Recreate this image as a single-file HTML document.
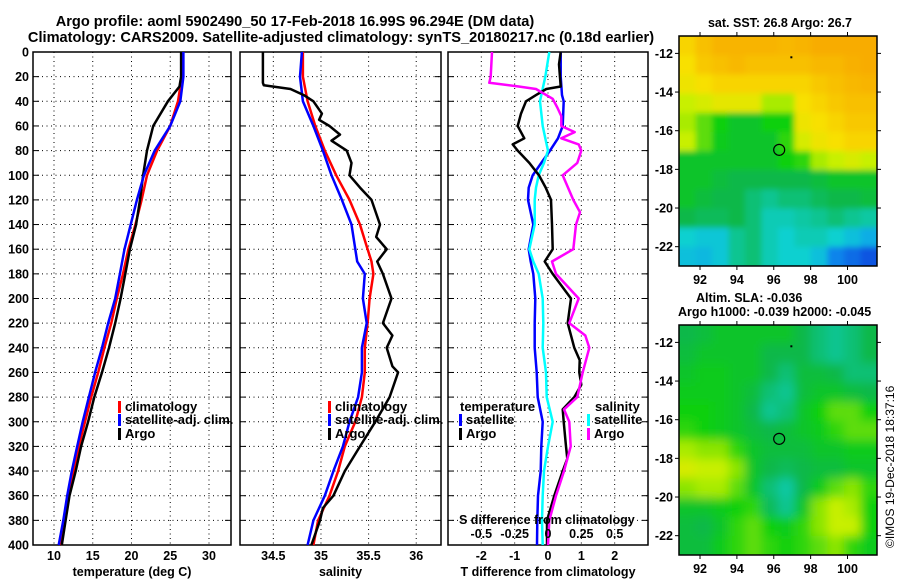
<!DOCTYPE html>
<html><head><meta charset="utf-8"><style>
body{margin:0;background:#fff;}
svg{display:block;font-family:"Liberation Sans",Arial,sans-serif;font-weight:bold;}
</style></head><body>
<svg id="chart" width="900" height="580" viewBox="0 0 900 580" xmlns="http://www.w3.org/2000/svg">
<text x="295" y="26" font-size="14.6" text-anchor="middle">Argo profile: aoml 5902490_50 17-Feb-2018 16.99S 96.294E (DM data)</text>
<text x="341" y="42" font-size="14.6" text-anchor="middle">Climatology: CARS2009. Satellite-adjusted climatology: synTS_20180217.nc (0.18d earlier)</text>
<g id="g"></g>
<text x="780" y="27" font-size="12.5" text-anchor="middle">sat. SST: 26.8 Argo: 26.7</text>
<text x="696" y="302" font-size="12.5">Altim. SLA: -0.036</text>
<text x="678" y="316" font-size="12.5">Argo h1000: -0.039 h2000: -0.045</text>
<text transform="translate(894,548) rotate(-90)" font-size="12" font-weight="normal">©IMOS 19-Dec-2018 18:37:16</text>
</svg>
<script>
// ---- profile data ----
const depthT = [0,20,40,60,80,100,120,140,160,180,200,220,240,260,280,300,320,340,360,380,400];
const tempClim = [26.5,26.5,26.0,25.0,23.3,22.0,21.3,20.5,19.6,18.9,18.1,17.4,16.5,15.7,14.8,14.0,13.2,12.5,11.8,11.4,10.9];
const tempSat  = [26.7,26.7,26.3,25.0,23.0,21.6,20.7,19.9,19.1,18.5,17.9,17.0,16.2,15.3,14.5,13.7,13.0,12.3,11.7,11.2,10.6];
const depthTA = [0,20,28,40,60,80,100,120,140,160,180,200,220,240,260,280,300,320,340,360,380,400];
const tempArgo = [26.4,26.4,26.2,24.7,22.8,22.0,21.5,21.1,20.6,19.8,19.2,18.6,17.9,17.1,16.2,15.2,14.4,13.5,12.8,12.0,11.5,11.0];

const depthS = [0,20,40,60,80,100,120,140,160,170,180,200,220,240,260,280,300,320,340,360,380,400];
const salClim = [34.81,34.81,34.86,34.94,35.04,35.16,35.30,35.41,35.49,35.53,35.55,35.51,35.49,35.46,35.46,35.43,35.36,35.25,35.18,35.09,34.97,34.92];
const salSat  = [34.80,34.78,34.81,34.92,35.02,35.11,35.22,35.32,35.36,35.38,35.46,35.44,35.48,35.43,35.43,35.39,35.30,35.23,35.13,35.04,34.92,34.86];
const depthSA = [0,25,27,30,35,40,50,55,60,67,72,80,90,100,110,120,140,150,160,170,180,200,220,230,240,255,260,280,300,320,340,360,370,380,400];
const salArgo = [34.39,34.39,34.40,34.68,34.82,34.92,35.01,34.98,35.09,35.20,35.11,35.27,35.32,35.30,35.41,35.53,35.62,35.58,35.69,35.59,35.65,35.74,35.65,35.75,35.69,35.75,35.81,35.72,35.57,35.41,35.25,35.13,35.02,34.99,34.90];

const depthD = [0,20,35,40,60,70,80,90,100,110,120,140,160,170,180,200,220,240,260,280,300,320,340,360,380,400];
const dTsat = [0.38,0.38,0.42,0.47,0.44,0.30,0.06,-0.20,-0.46,-0.58,-0.60,-0.44,-0.58,-0.52,-0.44,-0.38,-0.40,-0.40,-0.34,-0.31,-0.16,-0.20,-0.22,-0.30,-0.32,-0.33];
const dSsat = [0.01,-0.02,-0.05,-0.06,-0.04,-0.02,0.0,-0.03,-0.07,-0.09,-0.10,-0.10,-0.14,-0.11,-0.07,-0.04,-0.035,-0.04,-0.015,-0.01,0.035,0.0,-0.03,-0.04,-0.045,-0.04];
const depthDA = [0,10,28,30,35,40,50,60,70,75,80,90,100,110,120,140,160,170,180,200,220,240,250,260,270,280,290,300,320,330,340,360,380,400];
const dTargo = [0.38,0.33,0.38,-0.05,-0.36,-0.66,-0.81,-0.91,-0.71,-1.06,-0.91,-0.56,-0.27,-0.07,0.09,0.12,0.14,-0.10,0.14,0.69,0.59,0.79,0.95,0.94,1.0,0.79,0.44,0.47,0.54,0.58,0.44,0.19,-0.03,-0.03];
const depthSD = [0,20,25,28,30,38,45,52,60,65,70,75,80,90,100,120,130,140,160,170,180,200,220,230,240,260,280,290,300,320,340,360,380,400];
const dSargo = [-0.42,-0.43,-0.44,-0.22,-0.09,0.035,0.07,0.10,0.10,0.20,0.10,0.23,0.25,0.22,0.11,0.19,0.24,0.21,0.19,0.03,0.06,0.23,0.16,0.28,0.31,0.26,0.22,0.12,0.16,0.17,0.12,0.06,0.01,0.0];

// ---- map data (colormap index 0..1) ----
const sstGrid = [
[0.85,0.9,0.93,0.93,0.93,0.93,0.92,0.93,0.95,0.95,0.95,0.95],
[0.82,0.88,0.9,0.92,0.9,0.9,0.9,0.9,0.92,0.92,0.94,0.95],
[0.8,0.82,0.85,0.85,0.85,0.85,0.85,0.85,0.88,0.9,0.92,0.93],
[0.72,0.75,0.78,0.78,0.78,0.7,0.7,0.82,0.85,0.88,0.9,0.9],
[0.7,0.65,0.6,0.55,0.55,0.6,0.6,0.8,0.82,0.85,0.88,0.88],
[0.72,0.65,0.58,0.55,0.55,0.55,0.62,0.75,0.8,0.82,0.85,0.85],
[0.55,0.55,0.55,0.55,0.55,0.55,0.6,0.62,0.7,0.72,0.75,0.72],
[0.55,0.55,0.52,0.5,0.5,0.5,0.5,0.5,0.52,0.55,0.55,0.55],
[0.55,0.52,0.5,0.5,0.45,0.42,0.45,0.45,0.48,0.5,0.5,0.52],
[0.5,0.48,0.48,0.5,0.45,0.38,0.38,0.4,0.42,0.45,0.42,0.4],
[0.35,0.32,0.32,0.42,0.45,0.38,0.35,0.38,0.38,0.35,0.3,0.25],
[0.3,0.28,0.32,0.42,0.45,0.38,0.35,0.35,0.3,0.15,0.1,0.05]];
const slaGrid = [
[0.5,0.52,0.55,0.55,0.55,0.55,0.55,0.5,0.45,0.42,0.45,0.5],
[0.52,0.55,0.55,0.55,0.55,0.5,0.5,0.5,0.45,0.42,0.45,0.5],
[0.55,0.58,0.58,0.55,0.55,0.5,0.45,0.52,0.52,0.5,0.45,0.45],
[0.58,0.58,0.58,0.55,0.52,0.45,0.42,0.52,0.55,0.55,0.52,0.5],
[0.6,0.6,0.58,0.55,0.5,0.42,0.45,0.55,0.6,0.65,0.65,0.6],
[0.62,0.6,0.58,0.55,0.52,0.5,0.52,0.55,0.58,0.62,0.65,0.65],
[0.7,0.68,0.68,0.62,0.55,0.52,0.52,0.52,0.55,0.55,0.58,0.58],
[0.75,0.72,0.72,0.68,0.55,0.5,0.48,0.5,0.52,0.52,0.55,0.55],
[0.68,0.7,0.7,0.65,0.55,0.45,0.4,0.5,0.58,0.65,0.68,0.62],
[0.55,0.55,0.58,0.6,0.62,0.48,0.42,0.55,0.68,0.72,0.7,0.6],
[0.52,0.5,0.55,0.62,0.65,0.6,0.58,0.62,0.68,0.72,0.72,0.6],
[0.52,0.52,0.58,0.62,0.65,0.62,0.6,0.62,0.65,0.68,0.62,0.58]];
const argoLon = 96.294, argoLat = -16.99;

const NS='http://www.w3.org/2000/svg';
const G=document.getElementById('g');
function el(tag,attrs,parent){const e=document.createElementNS(NS,tag);for(const k in attrs)e.setAttribute(k,attrs[k]);(parent||G).appendChild(e);return e;}

const Y0=52, Y1=545;
const yD=d=>Y0+d*(Y1-Y0)/400;

function panel(name,x0,x1,vmin,vmax,gridVals,labels,lblVals,xlabel,showY){
  const sx=v=>x0+(v-vmin)*(x1-x0)/(vmax-vmin);
  const box=el('rect',{x:x0,y:Y0,width:x1-x0,height:Y1-Y0,fill:'none',stroke:'#000','stroke-width':1.5});
  
  
  for(let d=20;d<400;d+=20){
    const l=el('line',{x1:x0,x2:x1,y1:yD(d),y2:yD(d),stroke:'#000','stroke-dasharray':'1 3.5','stroke-width':1});
    
    
    el('line',{x1:x0,x2:x0+6,y1:yD(d),y2:yD(d),stroke:'#000'});
    el('line',{x1:x1-6,x2:x1,y1:yD(d),y2:yD(d),stroke:'#000'});
  }
  gridVals.forEach(v=>{
    const l=el('line',{x1:sx(v),x2:sx(v),y1:Y0,y2:Y1,stroke:'#000','stroke-dasharray':'1 3.5'});
    
    
  });
  labels.forEach((t,i)=>{
    const tx=el('text',{x:sx(lblVals[i]),y:560,'font-size':12.5,'text-anchor':'middle'});
    tx.textContent=t;
    
    
  });
  const xl=el('text',{x:(x0+x1)/2,y:576,'font-size':12.5,'text-anchor':'middle'});
  xl.textContent=xlabel;
  
  
  if(showY){for(let d=0;d<=400;d+=20){
    const tx=el('text',{x:29,y:yD(d)+4.5,'font-size':12.5,'text-anchor':'end'});
    tx.textContent=d;
    
    
  }}
  return sx;
}
function series(name,sx,depths,vals,color){
  const pts=depths.map((d,i)=>sx(vals[i]).toFixed(1)+','+yD(d).toFixed(1)).join(' ');
  const p=el('polyline',{points:pts,fill:'none',stroke:color,'stroke-width':2.5,'stroke-linejoin':'round'});
  
  
}
function legend(name,x,y,color,label){
  const r=el('rect',{x:x,y:y-10,width:3,height:12,fill:color});
  
  
  const t=el('text',{x:x+7,y:y,'font-size':13});
  t.textContent=label;
  
  
}

// Panel 1 temperature
const sx1=panel('temperature-panel',33,231,7.29,32.84,[10,15,20,25,30],['10','15','20','25','30'],[10,15,20,25,30],'temperature (deg C)',true);
series('temp-climatology-line',sx1,depthT,tempClim,'#f00');
series('temp-argo-line',sx1,depthTA,tempArgo,'#000');
series('temp-satellite-line',sx1,depthT,tempSat,'#00f');
legend('legend-climatology',118,411,'#f00','climatology');
legend('legend-satellite-adj',118,424,'#00f','satellite-adj. clim.');
legend('legend-argo',118,438,'#000','Argo');

// Panel 2 salinity
const sx2=panel('salinity-panel',240,441,34.15,36.26,[34.5,35,35.5,36],['34.5','35','35.5','36'],[34.5,35,35.5,36],'salinity',false);
series('sal-climatology-line',sx2,depthS,salClim,'#f00');
series('sal-satellite-line',sx2,depthS,salSat,'#00f');
series('sal-argo-line',sx2,depthSA,salArgo,'#000');
legend('legend-climatology-2',328,411,'#f00','climatology');
legend('legend-satellite-adj-2',328,424,'#00f','satellite-adj. clim.');
legend('legend-argo-2',328,438,'#000','Argo');

// Panel 3 differences
const sx3=panel('difference-panel',448,648,-3,3,[-2,-1,0,1,2],['-2','-1','0','1','2'],[-2,-1,0,1,2],'T difference from climatology',false);
const sxS=v=>sx3(v*4);
series('dT-satellite-line',sx3,depthD,dTsat,'#00f');
series('dS-satellite-line',sxS,depthD,dSsat,'#0ff');
series('dT-argo-line',sx3,depthDA,dTargo,'#000');
series('dS-argo-line',sxS,depthSD,dSargo,'#f0f');
(function(){
  const t=el('text',{x:460,y:411,'font-size':13});t.textContent='temperature';
  
  
  const s=el('text',{x:595,y:411,'font-size':13});s.textContent='salinity';
  
  
  legend('legend-t-satellite',459,424,'#00f','satellite');
  legend('legend-t-argo',459,438,'#000','Argo');
  legend('legend-s-satellite',587,424,'#0ff','satellite');
  legend('legend-s-argo',587,438,'#f0f','Argo');
  const st=el('text',{x:459,y:524,'font-size':12.5});st.textContent='S difference from climatology';
  
  
  const sl=['-0.5','-0.25','0','0.25','0.5'], sv=[-0.5,-0.25,0,0.25,0.5];
  sl.forEach((l,i)=>{const tx=el('text',{x:sxS(sv[i]),y:538,'font-size':12.5,'text-anchor':'middle'});tx.textContent=l;
    
    });
})();

// ---- maps ----
const cstops=[[0,[10,60,220]],[0.2,[10,156,240]],[0.35,[16,208,208]],[0.5,[8,184,72]],[0.6,[16,208,16]],[0.72,[200,240,0]],[0.82,[248,224,0]],[1,[248,152,0]]];
function cmap(v){for(let i=1;i<cstops.length;i++){if(v<=cstops[i][0]){const a=cstops[i-1],b=cstops[i],t=(v-a[0])/(b[0]-a[0]);return 'rgb('+a[1].map((c,k)=>Math.round(c+(b[1][k]-c)*t)).join(',')+')';}}return 'rgb(248,152,0)';}
const defs=el('defs',{});
const flt=el('filter',{id:'bl',x:'-5%',y:'-5%',width:'110%',height:'110%'},defs);
el('feGaussianBlur',{stdDeviation:5},flt);
const flt2=el('filter',{id:'bl2',x:'-5%',y:'-5%',width:'110%',height:'110%'},defs);
el('feGaussianBlur',{stdDeviation:3},flt2);
function map(name,top,grid,blurId){
  const X0=679,X1=877,H=230,LON0=90.86,LON1=101.6,LAT0=-11.1,LAT1=-23.0;
  const mx=lon=>X0+(lon-LON0)*(X1-X0)/(LON1-LON0);
  const my=lat=>top+(lat-LAT0)*H/(LAT1-LAT0);
  const cp=el('clipPath',{id:'cp'+name},defs);
  el('rect',{x:X0,y:top,width:X1-X0,height:H},cp);
  const g=el('g',{'clip-path':'url(#cp'+name+')'});
  const inner=el('g',{filter:'url(#'+blurId+')'},g);
  const nr=grid.length,nc=grid[0].length,cw=(X1-X0)/nc,ch=H/nr;
  grid.forEach((row,r)=>row.forEach((v,c)=>{
    const cell=el('rect',{x:X0+c*cw-(c==0?10:0),y:top+r*ch-(r==0?10:0),width:cw+1+(c==0||c==nc-1?10:0),height:ch+1+(r==0||r==nr-1?10:0),fill:cmap(v)},inner);
    
    
  }));
  const fr=el('rect',{x:X0,y:top,width:X1-X0,height:H,fill:'none',stroke:'#000','stroke-width':1.5});
  
  
  [92,94,96,98,100].forEach(l=>{
    el('line',{x1:mx(l),x2:mx(l),y1:top-4,y2:top,stroke:'#000'});
    el('line',{x1:mx(l),x2:mx(l),y1:top+H,y2:top+H+4,stroke:'#000'});
    const t=el('text',{x:mx(l),y:top+H+18,'font-size':12.5,'text-anchor':'middle'});t.textContent=l;
    
    
  });
  [-12,-14,-16,-18,-20,-22].forEach(l=>{
    el('line',{x1:X0-4,x2:X0,y1:my(l),y2:my(l),stroke:'#000'});
    el('line',{x1:X1,x2:X1+4,y1:my(l),y2:my(l),stroke:'#000'});
    const t=el('text',{x:X0-6,y:my(l)+4.5,'font-size':12.5,'text-anchor':'end'});t.textContent=l;
    
    
  });
  const c=el('circle',{cx:mx(argoLon),cy:my(argoLat),r:5.5,fill:'none',stroke:'#000','stroke-width':1.2});
  
  
  el('rect',{x:mx(96.9),y:my(-12.15),width:2,height:2,fill:'#000'});
}
map('sst-map',36,sstGrid,'bl2');
map('sla-map',325,slaGrid,'bl');
</script>
</body></html>
